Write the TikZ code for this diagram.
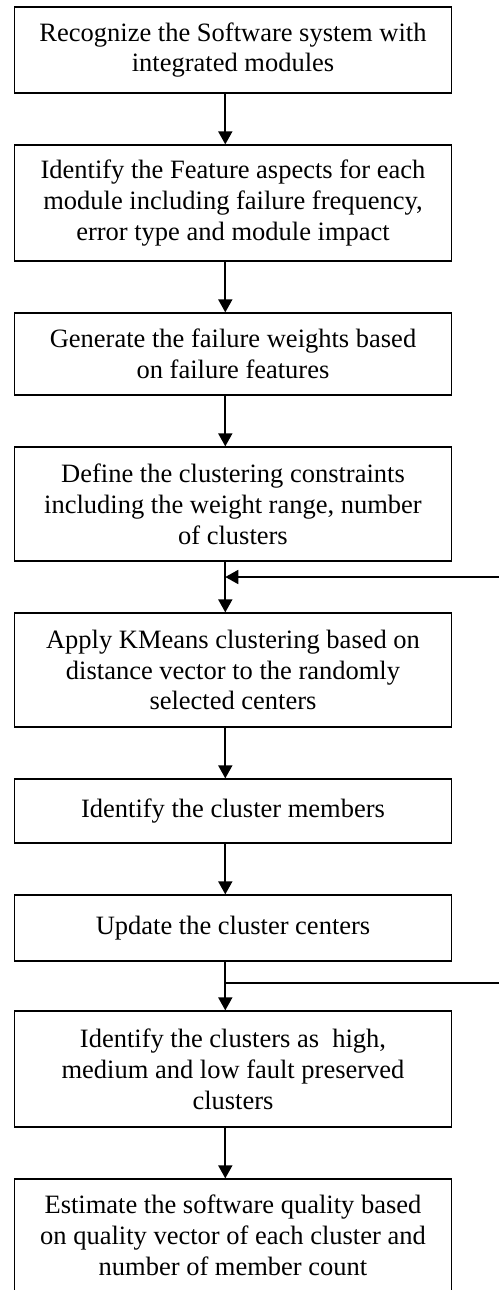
\documentclass[tikz,border=0pt]{standalone}
\usepackage{fontspec}
\setmainfont{Liberation Serif}
\usetikzlibrary{arrows.meta}
\begin{document}
\begin{tikzpicture}[x=1pt,y=1pt,
  stepbox/.style={draw=black, line width=1.3pt, minimum width=436.6pt, inner sep=0pt,
    align=center, font=\fontsize{26.5}{30.8}\selectfont},
  arr/.style={line width=1.8pt, -{Triangle[width=14pt,length=13pt]}},
  fbline/.style={line width=1.8pt}]
\useasboundingbox (0,0) rectangle (498,-1290);
\coordinate (ax) at (225.3,0);
\node[stepbox, minimum height=86pt]  (n1) at (233,-50)   {Recognize the Software system with\\integrated modules};
\node[stepbox, minimum height=116pt] (n2) at (233,-203)  {Identify the Feature aspects for each\\module including failure frequency,\\error type and module impact};
\node[stepbox, minimum height=82pt]  (n3) at (233,-354)  {Generate the failure weights based\\on failure features};
\node[stepbox, minimum height=114pt] (n4) at (233,-504)  {Define the clustering constraints\\including the weight range, number\\of clusters};
\node[stepbox, minimum height=114pt] (n5) at (233,-670)  {Apply KMeans clustering based on\\distance vector to the randomly\\selected centers};
\node[stepbox, minimum height=64pt]  (n6) at (233,-811)  {Identify the cluster members};
\node[stepbox, minimum height=66pt]  (n7) at (233,-928)  {Update the cluster centers};
\node[stepbox, minimum height=116pt] (n8) at (233,-1069) {Identify the clusters as\ \ high,\\medium and low fault preserved\\clusters};
\node[stepbox, minimum height=113pt] (n9) at (233,-1235.5) {Estimate the software quality based\\on quality vector of each cluster and\\number of member count};
\draw[arr] (n1.south -| ax) -- (n2.north -| ax);
\draw[arr] (n2.south -| ax) -- (n3.north -| ax);
\draw[arr] (n3.south -| ax) -- (n4.north -| ax);
\draw[arr] (n4.south -| ax) -- (n5.north -| ax);
\draw[arr] (n5.south -| ax) -- (n6.north -| ax);
\draw[arr] (n6.south -| ax) -- (n7.north -| ax);
\draw[arr] (n7.south -| ax) -- (n8.north -| ax);
\draw[arr] (n8.south -| ax) -- (n9.north -| ax);
\coordinate (fb1) at (500,-577);
\coordinate (fb2) at (500,-983);
\draw[arr] (fb1) -- (fb1 -| ax);
\draw[fbline] (fb2) -- (fb2 -| ax);
\end{tikzpicture}
\end{document}
